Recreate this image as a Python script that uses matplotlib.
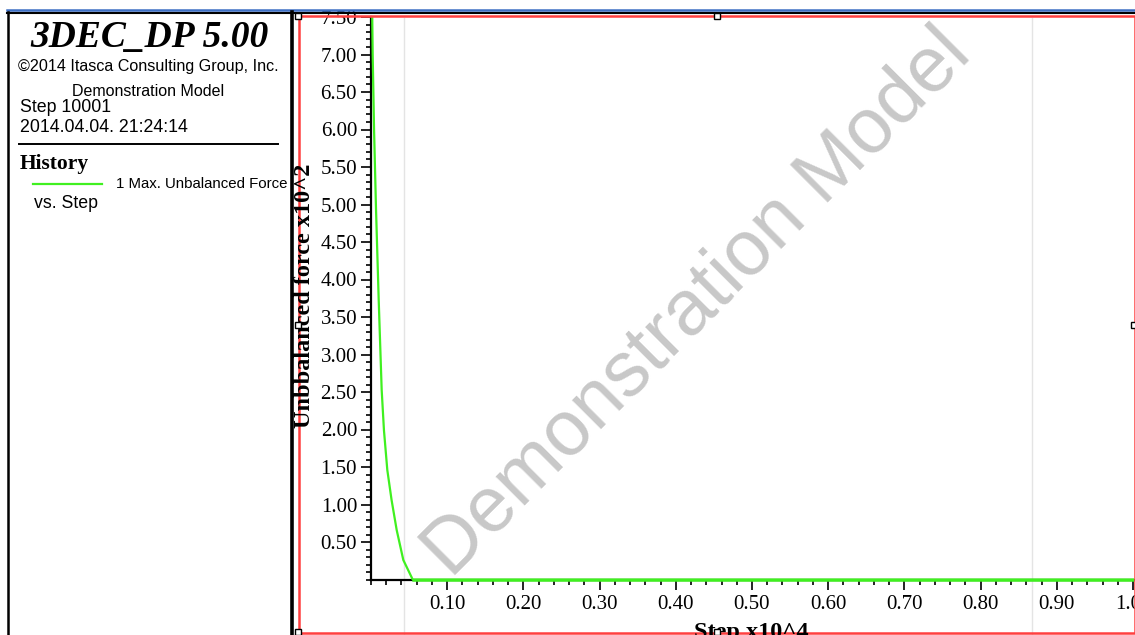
import matplotlib
matplotlib.use("Agg")
import matplotlib.pyplot as plt
import matplotlib.transforms as mtransforms
from matplotlib.lines import Line2D
from matplotlib.patches import Rectangle
from matplotlib.ticker import MultipleLocator, FormatStrFormatter
import numpy as np

# ---------------- data ----------------
step_x1e4 = [0.0015, 0.0022, 0.0040, 0.0066, 0.0101, 0.0140, 0.0170, 0.0214,
             0.0270, 0.0337, 0.0424, 0.0547, 1.0001]
force_x1e2 = [7.60, 7.00, 6.00, 4.93, 3.73, 2.53, 1.99, 1.46,
              1.06, 0.66, 0.26, 0.00, 0.00]
x_major_ticks = [0.10, 0.20, 0.30, 0.40, 0.50, 0.60, 0.70, 0.80, 0.90, 1.00]
y_major_ticks = [0.50, 1.00, 1.50, 2.00, 2.50, 3.00, 3.50, 4.00, 4.50, 5.00,
                 5.50, 6.00, 6.50, 7.00, 7.50]
title_text = "3DEC_DP 5.00"
copyright_text = "\u00a92014 Itasca Consulting Group, Inc."
model_text = "Demonstration Model"
step_text = "Step 10001"
date_text = "2014.04.04. 21:24:14"
history_text = "History"
series_label = "1 Max. Unbalanced Force"
vs_text = "vs. Step"
ylabel_text = "Unbbalanced force x10^2"
xlabel_text = "Step x10^4"
watermark_text = "Demonstration Model"

# ---------------- figure ----------------
W, H = 1135, 635
DPI = 100
fig = plt.figure(figsize=(W / DPI, H / DPI), dpi=DPI)
fig.patch.set_facecolor("white")

# pixel transform: (x from left, y from top) -> display
PX = mtransforms.Affine2D().scale(1, -1).translate(0, H)

SERIF = "Liberation Serif"
SANS = "Liberation Sans"
GREEN = "#40f020"
RED = "#ff4040"
BLUE = "#3d6fc4"

# axes placement
x0_px, x1_px = 371, 1135
y0_px, y1_px = 579.5, 17
ax = fig.add_axes([x0_px / W, (H - y0_px) / H, (x1_px - x0_px) / W, (y0_px - y1_px) / H])
ax.set_facecolor("none")
ax.set_xlim(0, (x1_px - x0_px) / 762.0)
ax.set_ylim(0, 7.5)
for s in ("top", "right"):
    ax.spines[s].set_visible(False)
for s in ("left", "bottom"):
    ax.spines[s].set_linewidth(1.6)
    ax.spines[s].set_color("black")

ax.set_xticks(x_major_ticks)
ax.set_yticks(y_major_ticks)
ax.xaxis.set_minor_locator(MultipleLocator(0.02))
ax.yaxis.set_minor_locator(MultipleLocator(0.10))
ax.xaxis.set_major_formatter(FormatStrFormatter("%.2f"))
ax.yaxis.set_major_formatter(FormatStrFormatter("%.2f"))
ax.tick_params(axis="both", which="major", direction="out", length=7.5, width=1.2,
               labelsize=15, color="black")
ax.tick_params(axis="both", which="minor", direction="out", length=3.8, width=1.2,
               color="black")
ax.tick_params(axis="y", which="major", pad=2.5)
ax.tick_params(axis="x", which="major", pad=3.5)
for lab in ax.get_xticklabels() + ax.get_yticklabels():
    lab.set_fontfamily(SERIF)

ax.plot(step_x1e4, force_x1e2, color=GREEN, lw=1.6, zorder=5, clip_on=True)
# the flat part sits on the x-axis line; redraw unclipped so it covers the spine
ax.plot(step_x1e4[-2:], force_x1e2[-2:], color=GREEN, lw=1.8, zorder=6, clip_on=False)

# axis labels placed in pixel coordinates
fig.text(305, 296, ylabel_text, transform=PX, rotation=90, ha="center", va="center",
         fontfamily=SERIF, fontweight="bold", fontsize=17.5)
fig.text(751, 638, xlabel_text, transform=PX, ha="center", va="baseline",
         fontfamily=SERIF, fontweight="bold", fontsize=17.5)

# watermark behind the axes
fig.text(698, 304, watermark_text, transform=PX, rotation=45, ha="center", va="center",
         rotation_mode="anchor", fontfamily=SANS, fontsize=56, color="#c8c8c8", zorder=-1)

# faint vertical guide lines
for gx in (404, 1032):
    fig.add_artist(Line2D([gx, gx], [18, 635], transform=PX, color="#e4e4e4", lw=1.0, zorder=-2))

# frames
fig.add_artist(Line2D([7, W], [9.5, 9.5], transform=PX, color=BLUE, lw=1.8))
fig.add_artist(Line2D([7, W], [12.5, 12.5], transform=PX, color="black", lw=1.5))
fig.add_artist(Line2D([8, 8], [12, H], transform=PX, color="black", lw=1.8))
fig.add_artist(Line2D([291.5, 291.5], [12, H], transform=PX, color="black", lw=2.6))
fig.add_artist(Line2D([299, W, W, 299, 299], [16, 16, 632.5, 632.5, 16], transform=PX,
                      color=RED, lw=1.8, solid_joinstyle="miter"))

# selection handles
for hx, hy in [(298, 16), (717, 16), (298, 325), (1134, 325), (298, 632), (717, 632)]:
    fig.add_artist(Rectangle((hx - 3, hy - 3), 6, 6, transform=PX, facecolor="white",
                             edgecolor="black", lw=1.0, zorder=10))

# left info panel
fig.text(149, 47, title_text, transform=PX, ha="center", va="baseline",
         fontfamily=SERIF, fontweight="bold", fontstyle="italic", fontsize=27)
fig.text(18, 66, copyright_text, transform=PX, ha="left", va="center",
         fontfamily=SANS, fontsize=11.6)
fig.text(148.5, 91, model_text, transform=PX, ha="center", va="center",
         fontfamily=SANS, fontsize=11.5)
fig.text(20, 107, step_text, transform=PX, ha="left", va="center",
         fontfamily=SANS, fontsize=12.8)
fig.text(20, 128, date_text, transform=PX, ha="left", va="center",
         fontfamily=SANS, fontsize=12.8)
fig.add_artist(Line2D([19, 278], [143.5, 143.5], transform=PX, color="black", lw=1.4))
fig.text(20, 164, history_text, transform=PX, ha="left", va="center",
         fontfamily=SERIF, fontweight="bold", fontsize=15.5)
fig.add_artist(Line2D([33, 102], [183.5, 183.5], transform=PX, color=GREEN, lw=1.6))
fig.text(116, 184, series_label, transform=PX, ha="left", va="center",
         fontfamily=SANS, fontsize=10.8)
fig.text(34, 203, vs_text, transform=PX, ha="left", va="center",
         fontfamily=SANS, fontsize=12.8)

fig.savefig("out.png", dpi=DPI, facecolor="white")
